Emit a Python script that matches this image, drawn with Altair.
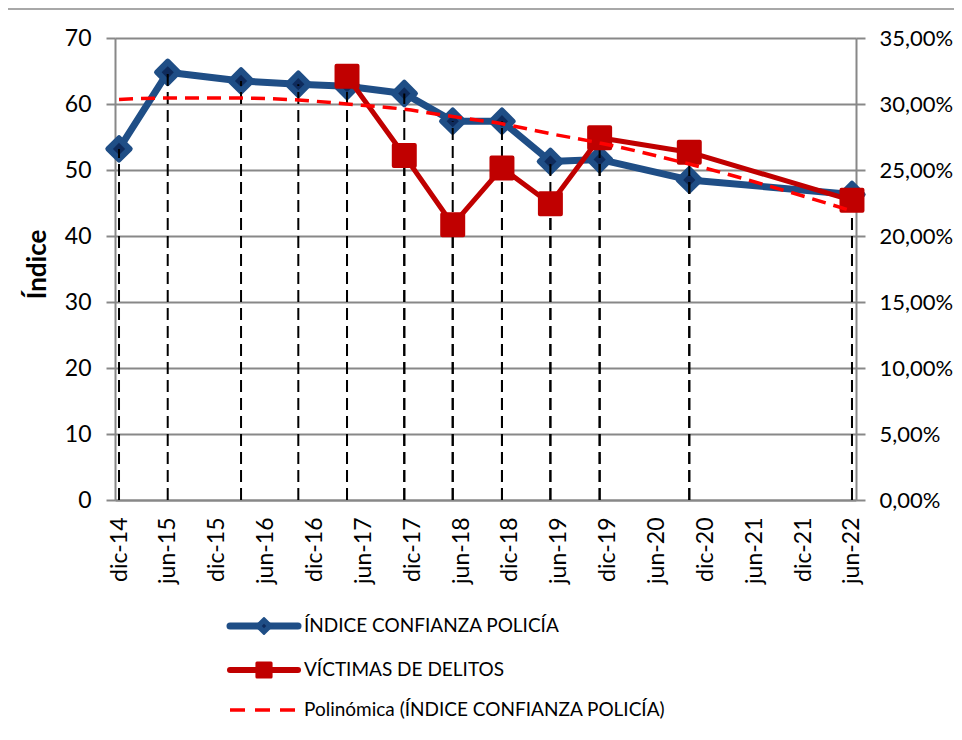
import altair as alt
import pandas as pd

# ---- data ----
FECHAS = ["2014-12-01", "2015-06-01", "2016-03-01", "2016-10-01", "2017-04-01", "2017-11-01",
          "2018-05-01", "2018-11-01", "2019-05-01", "2019-11-01", "2020-10-01", "2022-06-01"]
CONFIANZA = [53.2, 64.8, 63.5, 63.0, 62.7, 61.6, 57.4, 57.4, 51.3, 51.6, 48.5, 46.3]
FECHAS_VICTIMAS = ["2017-04-01", "2017-11-01", "2018-05-01", "2018-11-01", "2019-05-01",
                   "2019-11-01", "2020-10-01", "2022-06-01"]
VICTIMAS = [32.1, 26.1, 20.85, 25.15, 22.45, 27.45, 26.35, 22.7]   # %
TENDENCIA = [60.7, 60.9, 60.9, 60.6, 60.0, 59.2, 58.1, 57.0, 55.5, 54.1, 50.9, 43.8]
TICK_LABELS = ["dic-14", "jun-15", "dic-15", "jun-16", "dic-16", "jun-17", "dic-17", "jun-18",
               "dic-18", "jun-19", "dic-19", "jun-20", "dic-20", "jun-21", "dic-21", "jun-22"]
TICK_DATES = ["2014-12-01", "2015-06-01", "2015-12-01", "2016-06-01", "2016-12-01", "2017-06-01",
              "2017-12-01", "2018-06-01", "2018-12-01", "2019-06-01", "2019-12-01", "2020-06-01",
              "2020-12-01", "2021-06-01", "2021-12-01", "2022-06-01"]
LEGEND_LABELS = ["ÍNDICE CONFIANZA POLICÍA", "VÍCTIMAS DE DELITOS",
                 "Polinómica (ÍNDICE CONFIANZA POLICÍA)"]

BLUE = "#1F4E86"
BLUE_DARK = "#0E2B5C"
RED = "#C00000"
TREND = "#FF0000"
GRID = "#888888"
FONT = "Lato"

W, H = 741, 462

df_conf = pd.DataFrame({"fecha": FECHAS, "conf": CONFIANZA, "trend": TENDENCIA})
df_vic = pd.DataFrame({"fecha": FECHAS_VICTIMAS, "vic": VICTIMAS})


def dt(s):
    y, m, d = s.split("-")
    return alt.DateTime(year=int(y), month=int(m), date=int(d), utc=True)


label_arr = "[" + ",".join("'%s'" % t for t in TICK_LABELS) + "]"
x_label_expr = label_arr + "[(utcyear(datum.value)-2014)*2 + (utcmonth(datum.value)==5 ? 0 : 1) - 1]"

xscale = alt.Scale(type="utc", domain=[dt("2014-11-16"), dt("2022-06-16")], nice=False)
x_axis = alt.Axis(values=[dt(s) for s in TICK_DATES], labelExpr=x_label_expr,
                  labelAngle=-90, labelAlign="right", labelBaseline="middle",
                  labelFontSize=23, labelPadding=17, ticks=False, grid=False,
                  domain=True, domainColor=GRID, domainWidth=2, title=None,
                  labelColor="black", labelFont=FONT, labelOverlap=False)
X = alt.X("fecha:T", scale=xscale, axis=x_axis)

left_scale = alt.Scale(domain=[0, 70], nice=False, zero=True)
right_scale = alt.Scale(domain=[0, 35], nice=False, zero=True)

left_axis = alt.Axis(values=list(range(0, 71, 10)), grid=True, gridColor=GRID, gridWidth=2,
                     domain=True, domainColor=GRID, domainWidth=2, ticks=True, tickSize=9,
                     tickColor=GRID, tickWidth=2, labelFontSize=23, labelPadding=15,
                     labelColor="black", labelFont=FONT,
                     title="Índice", titleFontSize=26, titleFontWeight="bold", titleFont=FONT,
                     titleColor="black", titleAngle=-90, titleX=-78, titleY=226,
                     titleAlign="center", titleBaseline="middle")
right_axis = alt.Axis(orient="right", values=list(range(0, 36, 5)), grid=False,
                      domain=True, domainColor=GRID, domainWidth=2, ticks=True, tickSize=9,
                      tickColor=GRID, tickWidth=2, labelFontSize=22, labelPadding=14,
                      labelColor="black", labelFont=FONT, title=None,
                      labelExpr="replace(format(datum.value, '.2f'), '.', ',') + '%'")

base_c = alt.Chart(df_conf)
base_v = alt.Chart(df_vic)

line_c = base_c.mark_line(color=BLUE, strokeWidth=7, strokeJoin="round").encode(
    x=X, y=alt.Y("conf:Q", scale=left_scale, axis=left_axis))
pts_c = base_c.mark_point(shape="diamond", filled=True, fill=BLUE, stroke=BLUE, strokeWidth=5,
                          strokeJoin="round", size=500, opacity=1).encode(
    x=X, y=alt.Y("conf:Q", scale=left_scale, axis=None))
pts_c_in = base_c.mark_point(shape="diamond", filled=True, fill=BLUE_DARK, size=150, opacity=1).encode(
    x=X, y=alt.Y("conf:Q", scale=left_scale, axis=None))

# drop lines start at the x axis so the dash phases of both series coincide
drop_c = base_c.transform_calculate(base="0").mark_rule(
    color="black", strokeWidth=2, strokeDash=[12, 6]).encode(
    x=X, y=alt.Y("base:Q", scale=left_scale, axis=None), y2=alt.Y2("conf:Q"))
drop_v = base_v.transform_calculate(base="0").mark_rule(
    color="black", strokeWidth=2, strokeDash=[12, 6]).encode(
    x=X, y=alt.Y("base:Q", scale=right_scale, axis=None), y2=alt.Y2("vic:Q"))

line_v = base_v.mark_line(color=RED, strokeWidth=5, strokeJoin="round").encode(
    x=X, y=alt.Y("vic:Q", scale=right_scale, axis=right_axis))
pts_v = base_v.mark_point(shape="square", filled=True, fill=RED, stroke=RED, strokeWidth=4,
                          strokeJoin="round", size=440, opacity=1).encode(
    x=X, y=alt.Y("vic:Q", scale=right_scale, axis=None))

trend = base_c.mark_line(color=TREND, strokeWidth=3.5, strokeDash=[14, 8], interpolate="monotone").encode(
    x=X, y=alt.Y("trend:Q", scale=left_scale, axis=None))

one = pd.DataFrame({"a": [0]})
top_border = alt.Chart(one).mark_rule(color="#A8A8A8", strokeWidth=2).encode(
    x=alt.value(-110), x2=alt.value(W + 100), y=alt.value(-29))

# ---- legend (drawn below the plot) ----
LX0, LX1, LXM, LXT = 115, 183, 149, 189
LY = [588, 632, 672]
leg = []
for i, (lab, y) in enumerate(zip(LEGEND_LABELS, LY)):
    d = alt.Chart(pd.DataFrame({"label": [lab]}))
    if i == 0:
        leg.append(d.mark_rule(color=BLUE, strokeWidth=7, strokeCap="round").encode(
            x=alt.value(LX0), x2=alt.value(LX1), y=alt.value(y)))
        leg.append(d.mark_point(shape="diamond", filled=True, fill=BLUE, stroke=BLUE, strokeWidth=2,
                                strokeJoin="round", size=260, opacity=1).encode(
            x=alt.value(LXM), y=alt.value(y)))
        leg.append(d.mark_point(shape="diamond", filled=True, fill=BLUE_DARK, size=20, opacity=1).encode(
            x=alt.value(LXM), y=alt.value(y)))
    elif i == 1:
        leg.append(d.mark_rule(color=RED, strokeWidth=6, strokeCap="round").encode(
            x=alt.value(LX0), x2=alt.value(LX1), y=alt.value(y)))
        leg.append(d.mark_point(shape="square", filled=True, fill=RED, stroke=RED, strokeWidth=3,
                                strokeJoin="round", size=200, opacity=1).encode(
            x=alt.value(LXM), y=alt.value(y)))
    else:
        leg.append(d.mark_rule(color=TREND, strokeWidth=3.5, strokeDash=[15, 10]).encode(
            x=alt.value(LX0), x2=alt.value(LX1 - 2), y=alt.value(y)))
    leg.append(d.mark_text(align="left", baseline="middle", fontSize=19, font=FONT, color="black").encode(
        x=alt.value(LXT), y=alt.value(y), text="label:N"))

chart = alt.layer(
    line_c, pts_c, pts_c_in, drop_c, drop_v, line_v, pts_v, trend, top_border, *leg
).resolve_scale(y="independent").properties(
    width=W, height=H,
    autosize=alt.AutoSizeParams(type="none"),
    padding={"left": 107, "top": 30, "right": 98, "bottom": 226},
).configure_view(stroke=None).configure(font=FONT)

chart.save("out.html", embed_options={"renderer": "svg", "actions": False})
